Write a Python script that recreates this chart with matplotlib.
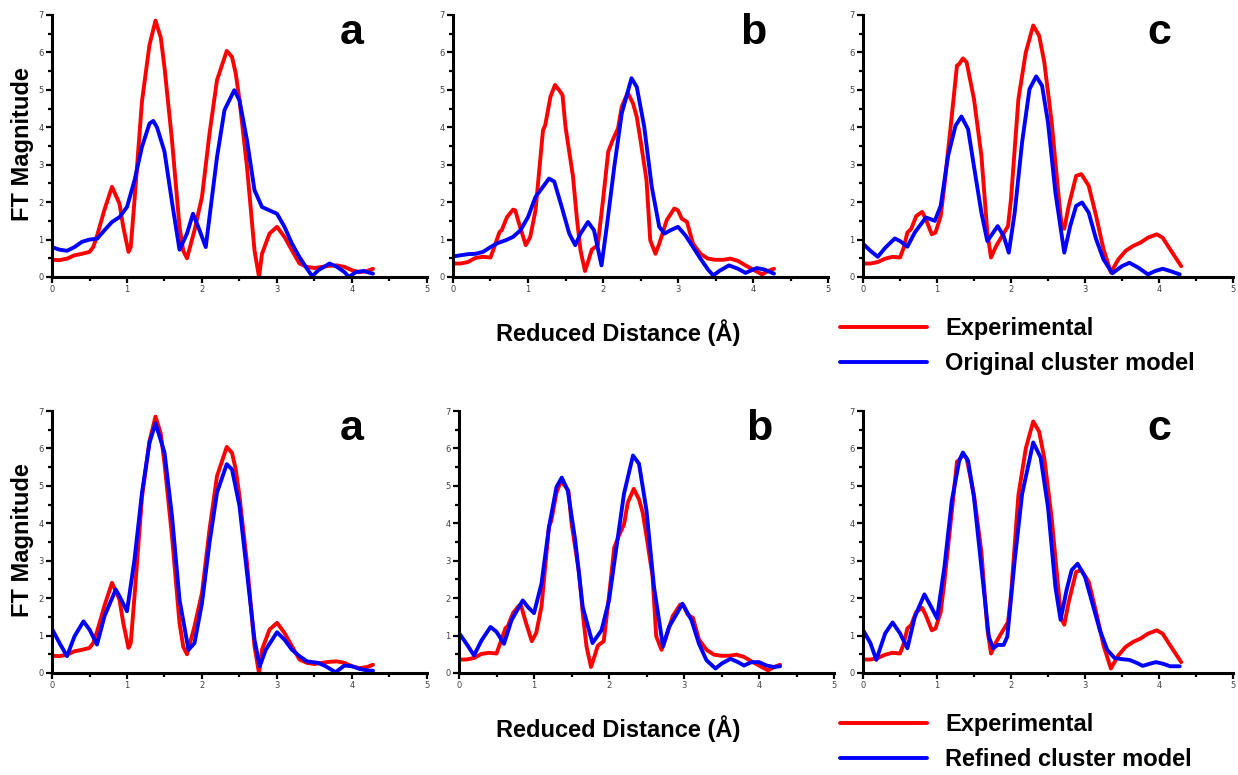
import matplotlib
matplotlib.use("Agg")
import matplotlib.pyplot as plt
from matplotlib.ticker import MultipleLocator

# experimental FT magnitudes (same spectra in top and bottom rows)
exp_a_x = [0, 0.1, 0.2, 0.3, 0.4, 0.5, 0.55, 0.6, 0.7, 0.8, 0.9, 0.95, 1.02, 1.05, 1.1, 1.2, 1.3, 1.38, 1.45, 1.5,
           1.6, 1.7, 1.75, 1.8, 1.9, 2.0, 2.1, 2.2, 2.33, 2.4, 2.45, 2.5, 2.6, 2.7, 2.76, 2.8, 2.9, 3.0, 3.1, 3.2,
           3.3, 3.4, 3.5, 3.6, 3.7, 3.8, 3.9, 4.0, 4.1, 4.2, 4.28]
exp_a_y = [0.46, 0.45, 0.49, 0.58, 0.62, 0.67, 0.8, 1.1, 1.8, 2.41, 1.96, 1.34, 0.67, 0.8, 2.05, 4.7, 6.2, 6.85, 6.4, 5.6,
           3.65, 1.34, 0.7, 0.5, 1.25, 2.14, 3.83, 5.26, 6.04, 5.88, 5.44, 4.72, 2.94, 0.71, 0.0, 0.62, 1.16, 1.34, 1.07, 0.71,
           0.36, 0.27, 0.24, 0.27, 0.3, 0.31, 0.27, 0.18, 0.13, 0.16, 0.22]

exp_b_x = [0, 0.1, 0.2, 0.3, 0.4, 0.5, 0.55, 0.62, 0.65, 0.72, 0.8, 0.83, 0.88, 0.97, 1.03, 1.1, 1.2, 1.23, 1.3, 1.36,
           1.42, 1.46, 1.5, 1.6, 1.65, 1.7, 1.76, 1.8, 1.85, 1.93, 2.0, 2.07, 2.13, 2.2, 2.25, 2.33, 2.4, 2.45, 2.5, 2.58,
           2.63, 2.7, 2.75, 2.85, 2.95, 3.0, 3.05, 3.12, 3.2, 3.3, 3.4, 3.5, 3.6, 3.7, 3.8, 3.9, 4.0, 4.12, 4.2, 4.28]
exp_b_y = [0.36, 0.36, 0.4, 0.51, 0.54, 0.52, 0.8, 1.2, 1.25, 1.6, 1.8, 1.78, 1.43, 0.85, 1.07, 1.78, 3.92, 4.06, 4.82, 5.13,
           4.98, 4.86, 4.01, 2.68, 1.6, 0.71, 0.16, 0.4, 0.73, 0.85, 2.05, 3.35, 3.66, 3.97, 4.55, 4.92, 4.64, 4.28, 3.66, 2.59,
           0.98, 0.62, 0.89, 1.52, 1.83, 1.78, 1.56, 1.47, 0.89, 0.62, 0.49, 0.46, 0.46, 0.49, 0.43, 0.31, 0.2, 0.07, 0.16, 0.22]

exp_c_x = [0, 0.1, 0.2, 0.3, 0.4, 0.5, 0.55, 0.6, 0.65, 0.72, 0.8, 0.85, 0.93, 0.98, 1.05, 1.1, 1.2, 1.27, 1.3, 1.35,
           1.4, 1.5, 1.6, 1.68, 1.73, 1.8, 1.88, 1.96, 2.0, 2.05, 2.1, 2.2, 2.3, 2.38, 2.45, 2.55, 2.63, 2.68, 2.72, 2.78,
           2.88, 2.95, 3.05, 3.15, 3.25, 3.35, 3.45, 3.55, 3.65, 3.75, 3.85, 3.97, 4.05, 4.15, 4.3]
exp_c_y = [0.36, 0.36, 0.4, 0.49, 0.54, 0.52, 0.78, 1.19, 1.28, 1.63, 1.74, 1.54, 1.14, 1.19, 1.63, 2.44, 4.31, 5.65, 5.69, 5.84,
           5.74, 4.75, 3.24, 1.19, 0.52, 0.83, 1.1, 1.36, 2.08, 3.42, 4.75, 6.0, 6.72, 6.45, 5.74, 4.13, 2.44, 1.45, 1.29, 1.9,
           2.7, 2.75, 2.44, 1.63, 0.74, 0.12, 0.47, 0.7, 0.83, 0.92, 1.05, 1.14, 1.05, 0.74, 0.29]

# original cluster model (top row)
orig_a_x = [0, 0.1, 0.2, 0.3, 0.4, 0.5, 0.6, 0.7, 0.8, 0.9, 1.0, 1.1, 1.2, 1.3, 1.35, 1.4, 1.5, 1.6, 1.7, 1.8,
            1.88, 1.95, 2.05, 2.1, 2.2, 2.3, 2.43, 2.5, 2.6, 2.7, 2.8, 2.9, 3.0, 3.1, 3.2, 3.3, 3.4, 3.47, 3.55, 3.7,
            3.8, 3.9, 3.96, 4.05, 4.15, 4.28]
orig_a_y = [0.8, 0.73, 0.7, 0.8, 0.94, 1.0, 1.02, 1.25, 1.47, 1.6, 1.87, 2.58, 3.48, 4.1, 4.17, 4.0, 3.35, 2.0, 0.73, 1.16,
            1.69, 1.34, 0.8, 1.6, 3.2, 4.46, 4.99, 4.72, 3.65, 2.32, 1.87, 1.78, 1.69, 1.34, 0.89, 0.53, 0.22, 0.02, 0.18, 0.36,
            0.27, 0.13, 0.0, 0.13, 0.16, 0.09]

orig_b_x = [0, 0.1, 0.2, 0.3, 0.4, 0.5, 0.6, 0.7, 0.8, 0.9, 1.0, 1.1, 1.2, 1.28, 1.35, 1.45, 1.55, 1.63, 1.7, 1.8,
            1.88, 1.98, 2.05, 2.15, 2.25, 2.38, 2.45, 2.55, 2.65, 2.75, 2.82, 2.9, 3.0, 3.1, 3.2, 3.3, 3.4, 3.47, 3.55, 3.68,
            3.8, 3.9, 4.05, 4.15, 4.28]
orig_b_y = [0.55, 0.58, 0.61, 0.62, 0.67, 0.8, 0.91, 0.98, 1.07, 1.25, 1.6, 2.14, 2.41, 2.63, 2.55, 1.87, 1.16, 0.85, 1.16, 1.47,
            1.25, 0.31, 1.34, 2.94, 4.37, 5.31, 5.08, 4.01, 2.41, 1.34, 1.16, 1.25, 1.34, 1.11, 0.8, 0.49, 0.2, 0.04, 0.16, 0.31,
            0.22, 0.11, 0.24, 0.2, 0.09]

orig_c_x = [0, 0.1, 0.2, 0.3, 0.43, 0.5, 0.6, 0.7, 0.85, 0.92, 0.97, 1.05, 1.15, 1.25, 1.33, 1.42, 1.52, 1.6, 1.68, 1.82,
            1.9, 1.97, 2.05, 2.15, 2.25, 2.34, 2.42, 2.5, 2.6, 2.72, 2.8, 2.88, 2.96, 3.05, 3.15, 3.25, 3.37, 3.5, 3.6, 3.72,
            3.85, 3.95, 4.05, 4.15, 4.28]
orig_c_y = [0.89, 0.7, 0.54, 0.78, 1.03, 0.96, 0.81, 1.19, 1.59, 1.54, 1.5, 1.9, 3.24, 4.04, 4.29, 3.95, 2.7, 1.72, 0.96, 1.36,
            1.1, 0.65, 1.72, 3.6, 5.02, 5.36, 5.11, 4.13, 2.26, 0.65, 1.36, 1.9, 1.99, 1.72, 1.01, 0.47, 0.1, 0.29, 0.38, 0.25,
            0.07, 0.16, 0.22, 0.16, 0.07]

# refined cluster model (bottom row)
ref_a_x = [0, 0.1, 0.2, 0.3, 0.42, 0.5, 0.6, 0.7, 0.85, 0.9, 1.0, 1.1, 1.2, 1.3, 1.38, 1.5, 1.6, 1.7, 1.82, 1.9,
           2.0, 2.1, 2.2, 2.33, 2.4, 2.5, 2.6, 2.7, 2.77, 2.85, 3.0, 3.1, 3.2, 3.3, 3.4, 3.55, 3.65, 3.78, 3.9, 4.0,
           4.1, 4.2, 4.28]
ref_a_y = [1.18, 0.8, 0.45, 0.98, 1.38, 1.16, 0.76, 1.52, 2.23, 2.05, 1.65, 3.03, 4.82, 6.15, 6.67, 5.89, 4.19, 1.96, 0.62, 0.8,
           1.87, 3.48, 4.82, 5.58, 5.44, 4.46, 2.68, 0.89, 0.18, 0.62, 1.09, 0.89, 0.62, 0.45, 0.31, 0.27, 0.18, 0.02, 0.2, 0.18,
           0.11, 0.07, 0.06]

ref_b_x = [0, 0.1, 0.2, 0.3, 0.42, 0.5, 0.6, 0.7, 0.85, 0.92, 1.0, 1.1, 1.2, 1.3, 1.37, 1.45, 1.55, 1.65, 1.78, 1.9,
           2.0, 2.1, 2.2, 2.32, 2.4, 2.5, 2.6, 2.72, 2.8, 2.98, 3.1, 3.2, 3.3, 3.42, 3.5, 3.62, 3.72, 3.8, 3.9, 4.0,
           4.1, 4.2, 4.28]
ref_b_y = [1.07, 0.78, 0.47, 0.87, 1.23, 1.1, 0.78, 1.41, 1.94, 1.76, 1.6, 2.39, 3.9, 4.97, 5.22, 4.88, 3.54, 1.76, 0.8, 1.14,
           1.94, 3.37, 4.79, 5.81, 5.59, 4.34, 2.3, 0.71, 1.23, 1.85, 1.41, 0.78, 0.34, 0.12, 0.25, 0.38, 0.29, 0.2, 0.29, 0.29,
           0.2, 0.16, 0.18]

ref_c_x = [0, 0.1, 0.18, 0.3, 0.4, 0.5, 0.6, 0.7, 0.83, 0.92, 1.0, 1.1, 1.2, 1.3, 1.35, 1.42, 1.5, 1.6, 1.7, 1.76,
           1.82, 1.9, 1.95, 2.05, 2.15, 2.3, 2.4, 2.5, 2.6, 2.67, 2.75, 2.82, 2.9, 3.0, 3.1, 3.2, 3.3, 3.4, 3.5, 3.6,
           3.7, 3.78, 3.88, 3.96, 4.05, 4.15, 4.28]
ref_c_y = [1.15, 0.8, 0.35, 1.06, 1.35, 1.06, 0.66, 1.5, 2.1, 1.77, 1.46, 2.83, 4.6, 5.67, 5.89, 5.67, 4.69, 2.83, 0.97, 0.66,
           0.75, 0.75, 0.97, 3.01, 4.78, 6.16, 5.76, 4.43, 2.3, 1.42, 2.21, 2.75, 2.92, 2.57, 1.86, 1.15, 0.62, 0.4, 0.37, 0.35,
           0.27, 0.19, 0.25, 0.29, 0.25, 0.18, 0.18]

letters = ["a", "b", "c"]
W, H = 1238, 775
BOLD = ["Liberation Sans", "DejaVu Sans"]


def draw_panel(ax, ex, ey, mx, my, letter):
    ax.plot(ex, ey, color="#ff0000", lw=2.8, solid_joinstyle="round", solid_capstyle="round")
    ax.plot(mx, my, color="#0000ff", lw=2.8, solid_joinstyle="round", solid_capstyle="round")
    ax.set_xlim(0, 5)
    ax.set_ylim(0, 7)
    for s in ["top", "right"]:
        ax.spines[s].set_visible(False)
    for s in ["left", "bottom"]:
        ax.spines[s].set_linewidth(2.2)
    ax.xaxis.set_major_locator(MultipleLocator(1))
    ax.xaxis.set_minor_locator(MultipleLocator(0.5))
    ax.yaxis.set_major_locator(MultipleLocator(1))
    ax.yaxis.set_minor_locator(MultipleLocator(0.5))
    ax.tick_params(which="major", direction="out", length=4, width=1.6, labelsize=6,
                   labelcolor="#444444", pad=2)
    ax.tick_params(which="minor", direction="out", length=3, width=1.6)
    ax.text(0.80, 0.89, letter, transform=ax.transAxes, ha="center", va="baseline",
            fontsize=31, fontweight="bold", family=BOLD)


fig = plt.figure(figsize=(W / 100, H / 100), dpi=100)

top_lefts = [52, 453, 863]
bot_lefts = [52, 459, 863]
widths = [375, 375, 370]
exp_x = [exp_a_x, exp_b_x, exp_c_x]
exp_y = [exp_a_y, exp_b_y, exp_c_y]
orig_x = [orig_a_x, orig_b_x, orig_c_x]
orig_y = [orig_a_y, orig_b_y, orig_c_y]
ref_x = [ref_a_x, ref_b_x, ref_c_x]
ref_y = [ref_a_y, ref_b_y, ref_c_y]

rows = [(15, 277, top_lefts, orig_x, orig_y, "Original cluster model"),
        (411, 673, bot_lefts, ref_x, ref_y, "Refined cluster model")]

for top, bottom, lefts, mxs, mys, model_label in rows:
    axes = []
    for i in range(3):
        ax = fig.add_axes([lefts[i] / W, 1 - bottom / H, widths[i] / W, (bottom - top) / H])
        draw_panel(ax, exp_x[i], exp_y[i], mxs[i], mys[i], letters[i])
        axes.append(ax)
    # y label
    fig.text(22 / W, 1 - (top + 129) / H, "FT Magnitude", rotation=90, ha="center", va="center",
             fontsize=17, fontweight="bold", family=BOLD)
    # x label
    fig.text(618 / W, 1 - (bottom + 56) / H, "Reduced Distance (Å)", ha="center", va="center",
             fontsize=17, fontweight="bold", family=BOLD)
    # legend
    handles = axes[0].get_lines()[:2]
    fig.legend(handles, ["Experimental", model_label], loc="upper left",
               bbox_to_anchor=(840 / W, 1 - (bottom + 40) / H), frameon=False,
               handlelength=3.7, handletextpad=0.75, labelspacing=0.5, borderpad=0, borderaxespad=0,
               prop={"family": BOLD, "weight": "bold", "size": 17})

fig.savefig("out.png", dpi=100)
